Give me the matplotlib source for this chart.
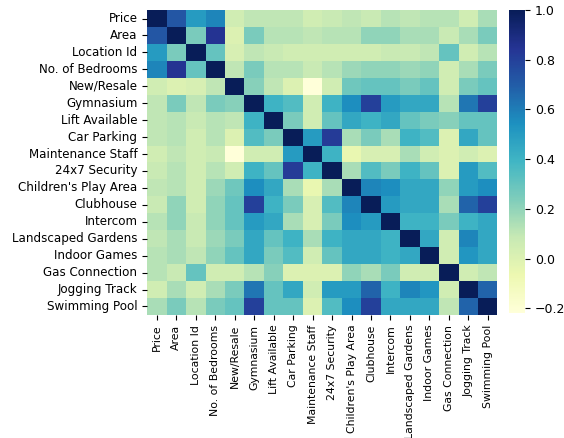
import numpy as np
import pandas as pd
import seaborn as sns
from matplotlib import pyplot as plt

labels = ["Price", "Area", "Location Id", "No. of Bedrooms", "New/Resale",
          "Gymnasium", "Lift Available", "Car Parking", "Maintenance Staff",
          "24x7 Security", "Children's Play Area", "Clubhouse", "Intercom",
          "Landscaped Gardens", "Indoor Games", "Gas Connection",
          "Jogging Track", "Swimming Pool"]

# lower triangle of the correlation matrix
price = [1.0]
area = [0.72, 1.0]
location = [0.50, 0.25, 1.0]
bedrooms = [0.58, 0.85, 0.30, 1.0]
new_resale = [0.05, 0.00, 0.02, 0.10, 1.0]
gym = [0.10, 0.25, 0.10, 0.25, 0.22, 1.0]
lift = [0.10, 0.12, 0.08, 0.12, 0.10, 0.40, 1.0]
car_parking = [0.10, 0.12, 0.05, 0.12, 0.00, 0.35, 0.25, 1.0]
maintenance = [0.05, 0.10, 0.05, 0.08, -0.22, 0.05, 0.05, 0.50, 1.0]
security = [0.08, 0.12, 0.05, 0.12, 0.05, 0.40, 0.30, 0.82, 0.40, 1.0]
play_area = [0.10, 0.12, 0.05, 0.18, 0.28, 0.55, 0.45, 0.15, -0.05, 0.15, 1.0]
clubhouse = [0.08, 0.20, 0.05, 0.20, 0.30, 0.80, 0.40, 0.25, 0.02, 0.35, 0.58, 1.0]
intercom = [0.12, 0.20, 0.08, 0.20, 0.30, 0.50, 0.45, 0.15, 0.02, 0.25, 0.55, 0.50, 1.0]
gardens = [0.10, 0.15, 0.08, 0.18, 0.25, 0.45, 0.30, 0.40, 0.15, 0.40, 0.45, 0.45, 0.40, 1.0]
indoor = [0.12, 0.15, 0.10, 0.20, 0.30, 0.45, 0.25, 0.35, 0.05, 0.30, 0.45, 0.45, 0.40, 0.45, 1.0]
gas = [0.12, 0.08, 0.30, 0.05, 0.05, 0.12, 0.22, 0.00, 0.00, 0.00, 0.20, 0.15, 0.25, 0.05, 0.05, 1.0]
jogging = [0.05, 0.15, 0.05, 0.15, 0.25, 0.62, 0.30, 0.45, 0.05, 0.50, 0.50, 0.68, 0.40, 0.58, 0.52, 0.05, 1.0]
swimming = [0.15, 0.25, 0.12, 0.25, 0.30, 0.80, 0.30, 0.30, 0.00, 0.35, 0.55, 0.80, 0.45, 0.45, 0.45, 0.10, 0.68, 1.0]

rows = [price, area, location, bedrooms, new_resale, gym, lift, car_parking,
        maintenance, security, play_area, clubhouse, intercom, gardens,
        indoor, gas, jogging, swimming]

n = len(labels)
mat = np.zeros((n, n))
for i, r in enumerate(rows):
    for j, v in enumerate(r):
        mat[i, j] = v
        mat[j, i] = v

corr = pd.DataFrame(mat, index=labels, columns=labels)

fig = plt.figure(figsize=(5.64, 4.38), dpi=100)
ax = fig.add_axes([0.261, 0.281, 0.621, 0.696])
cax = fig.add_axes([0.903, 0.285, 0.028, 0.692])
sns.heatmap(corr, cmap="YlGnBu", ax=ax, cbar_ax=cax,
            xticklabels=True, yticklabels=True)
ax.tick_params(axis="y", labelsize=8.6)
ax.tick_params(axis="x", labelsize=7.8)
cax.tick_params(labelsize=9)
fig.savefig("out.png", dpi=100)
